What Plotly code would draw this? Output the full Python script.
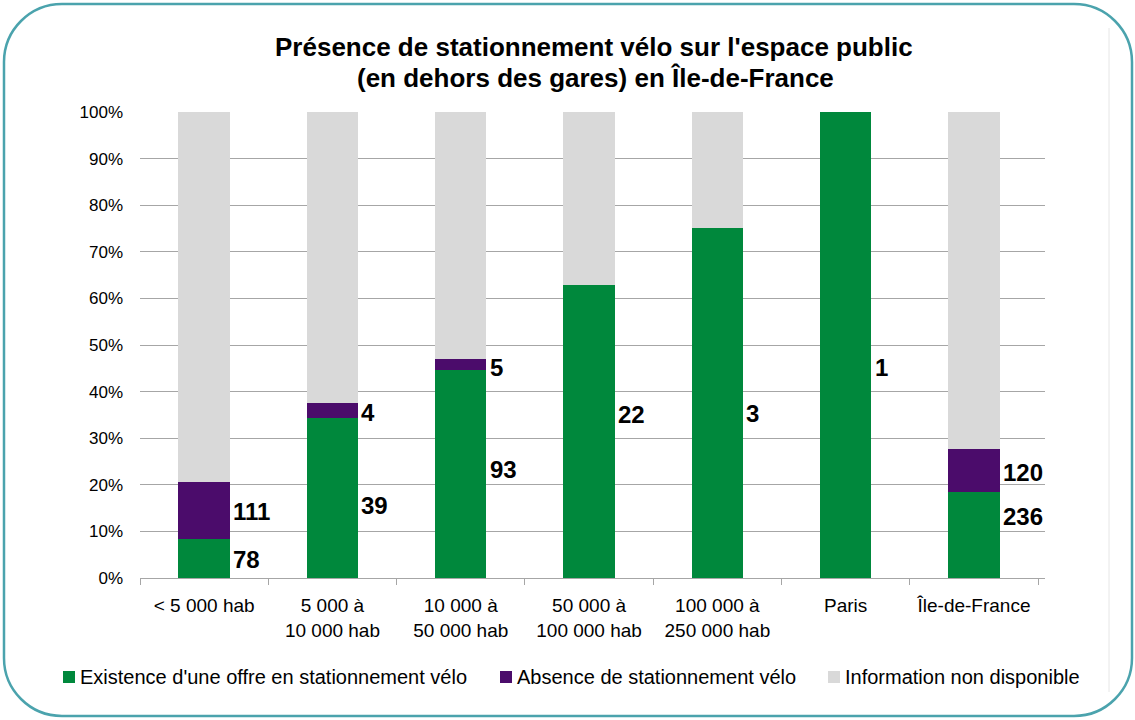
import plotly.graph_objects as go

categories = ["< 5 000 hab", "5 000 à<br>10 000 hab", "10 000 à<br>50 000 hab",
              "50 000 à<br>100 000 hab", "100 000 à<br>250 000 hab", "Paris", "Île-de-France"]
pct_offre = [8.4, 34.4, 44.7, 62.9, 75.1, 100.0, 18.5]
pct_absence = [12.3, 3.2, 2.4, 0.0, 0.0, 0.0, 9.2]
pct_nd = [round(100 - a - b, 1) for a, b in zip(pct_offre, pct_absence)]

labels_offre = ["78", "39", "93", "22", "3", "1", "236"]
labels_absence = ["111", "4", "5", "", "", "", "120"]
label_offre_y = [3.9, 15.5, 23.2, 35.0, 35.3, 45.1, 13.2]
label_absence_y = [14.2, 35.6, 45.1, None, None, None, 22.6]

series_names = ["Existence d'une offre en stationnement vélo",
                "Absence de stationnement vélo",
                "Information non disponible"]
colors = ["#00883C", "#4B0C6B", "#D9D9D9"]

W, H = 1135, 720
L, R, T, B = 140, 1045, 112, 578
FONT = "Liberation Sans, Arial, sans-serif"

fig = go.Figure()
for name, vals, col in zip(series_names, [pct_offre, pct_absence, pct_nd], colors):
    fig.add_trace(go.Bar(x=categories, y=vals, name=name, marker_color=col,
                         marker_line_width=0, width=0.4, hoverinfo="skip",
                         showlegend=False))

annotations = []
for cat, lab, ly in zip(categories, labels_offre, label_offre_y):
    annotations.append(dict(x=cat, y=ly, text=lab, xanchor="left", yanchor="middle",
                            xshift=27, showarrow=False,
                            font=dict(family=FONT, size=24, color="#000000", weight="bold")))
for cat, lab, ly in zip(categories, labels_absence, label_absence_y):
    if lab:
        annotations.append(dict(x=cat, y=ly, text=lab, xanchor="left", yanchor="middle",
                                xshift=27, showarrow=False,
                                font=dict(family=FONT, size=24, color="#000000", weight="bold")))

def px(x):
    return (x - L) / (R - L)

def py(y):
    return (B - y) / (B - T)

annotations.append(dict(xref="paper", yref="paper", x=px(594), y=py(47),
                        text="<b>Présence de stationnement vélo sur l'espace public</b>",
                        showarrow=False, xanchor="center", yanchor="middle",
                        font=dict(family=FONT, size=26, color="#000000")))
annotations.append(dict(xref="paper", yref="paper", x=px(595), y=py(78),
                        text="<b>(en dehors des gares) en Île-de-France</b>",
                        showarrow=False, xanchor="center", yanchor="middle",
                        font=dict(family=FONT, size=26, color="#000000")))

# rounded border
bl, br, bt, bb, r = 4, 1132, 4, 716, 58
k = 0.552 * r
def P(x, y):
    return f"{px(x):.5f},{py(y):.5f}"
path = (f"M {P(bl + r, bt)} L {P(br - r, bt)} "
        f"C {P(br - r + k, bt)} {P(br, bt + r - k)} {P(br, bt + r)} "
        f"L {P(br, bb - r)} "
        f"C {P(br, bb - r + k)} {P(br - r + k, bb)} {P(br - r, bb)} "
        f"L {P(bl + r, bb)} "
        f"C {P(bl + r - k, bb)} {P(bl, bb - r + k)} {P(bl, bb - r)} "
        f"L {P(bl, bt + r)} "
        f"C {P(bl, bt + r - k)} {P(bl + r - k, bt)} {P(bl + r, bt)} Z")
shapes = [
    dict(type="path", xref="paper", yref="paper", path=path,
         line=dict(color="#4BA3AD", width=2.5), layer="above"),
    dict(type="line", xref="paper", yref="paper", x0=px(1109), x1=px(1109),
         y0=py(28), y1=py(692), line=dict(color="#E6E6E6", width=1)),
]

# manual legend (single row as in the reference)
legend_marker_x = [63, 500, 828]
legend_y = 677
for name, col, mx in zip(series_names, colors, legend_marker_x):
    shapes.append(dict(type="rect", xref="paper", yref="paper",
                       x0=px(mx), x1=px(mx + 12), y0=py(legend_y + 6), y1=py(legend_y - 6),
                       fillcolor=col, line=dict(width=0)))
    annotations.append(dict(xref="paper", yref="paper", x=px(mx + 15), y=py(legend_y),
                            text=name, showarrow=False, xanchor="left", yanchor="middle",
                            font=dict(family=FONT, size=20, color="#000000")))

fig.update_layout(
    width=W, height=H, autosize=False,
    margin=dict(l=L, r=W - R, t=T, b=H - B),
    paper_bgcolor="white", plot_bgcolor="white",
    barmode="stack", bargap=0.6, showlegend=False,
    font=dict(family=FONT, size=16, color="#000000"),
    annotations=annotations, shapes=shapes,
    xaxis=dict(type="category", showgrid=False, showline=True, linecolor="#A6A6A6",
               linewidth=1, ticks="outside", tickson="boundaries", ticklen=6,
               tickcolor="#A6A6A6", ticklabelstandoff=10,
               tickfont=dict(family=FONT, size=19, color="#000000")),
    yaxis=dict(range=[0, 100], tickvals=list(range(0, 101, 10)),
               ticktext=[f"{v}%" for v in range(0, 101, 10)],
               showgrid=True, gridcolor="#A6A6A6", gridwidth=1, zeroline=False,
               showline=False, ticks="", ticklabelstandoff=16,
               tickfont=dict(family=FONT, size=17, color="#000000")),
)

fig.write_html("out.html", config={"displayModeBar": False},
               post_script="document.body.style.margin='0';document.body.style.overflow='hidden';")
